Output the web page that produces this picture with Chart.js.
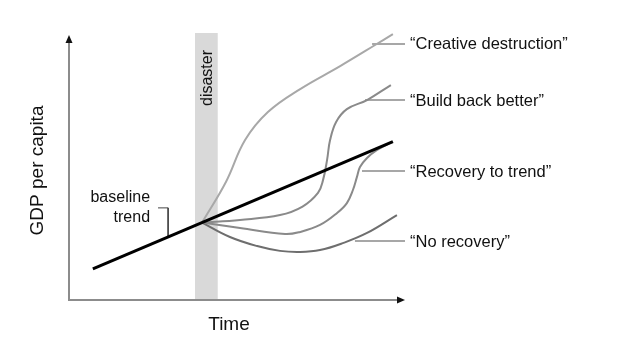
<!DOCTYPE html>
<html>
<head>
<meta charset="utf-8">
<script src="https://cdn.jsdelivr.net/npm/chart.js@4/dist/chart.umd.min.js"></script>
<style>
html,body{margin:0;padding:0;background:#fff;}
#wrap{width:630px;height:354px;position:relative;}
</style>
</head>
<body>
<div id="wrap"><canvas id="c"></canvas></div>
<script>
// ---- data (time units 0..100, GDP units 0..100) ----
const disasterSpan = [37.5, 44.3];
const disasterTop = 100;

const baselineT = [7.1, 96.4];
const baselineG = [11.7, 59.3];

const creativeT = [39.6, 46.7, 52.4, 59.2, 68.8, 80.7, 91.1, 96.4];
const creativeG = [29.0, 44.2, 59.9, 70.4, 79.0, 87.6, 95.5, 99.6];

const buildT = [39.6, 50.9, 62.8, 69.5, 74.1, 75.6, 76.8, 77.7, 79.5, 82.7, 88.7, 95.8];
const buildG = [29.0, 30.0, 31.8, 35.0, 40.1, 44.9, 52.4, 59.9, 66.7, 71.5, 74.9, 80.5];

const recoveryT = [39.6, 50.9, 64.3, 68.8, 74.7, 79.8, 82.7, 84.5, 85.7, 86.6, 88.7, 91.7, 96.1];
const recoveryG = [29.0, 27.0, 24.7, 25.5, 28.1, 32.6, 36.3, 41.2, 46.1, 49.8, 53.2, 56.2, 59.2];

const noRecT = [39.6, 47.9, 56.0, 62.8, 68.8, 74.7, 81.5, 88.7, 97.6];
const noRecG = [29.0, 23.6, 20.2, 18.4, 18.0, 18.7, 21.3, 25.1, 31.8];

const scenarioNames = ['\u201CCreative destruction\u201D', '\u201CBuild back better\u201D', '\u201CRecovery to trend\u201D', '\u201CNo recovery\u201D'];
const leaderStartT = [90.2, 88.1, 87.2, 85.1];
const leaderLevelG = [95.9, 74.9, 48.3, 22.1];
const leaderEndT = 100;

const bracketT = [26.5, 29.5, 29.5];
const bracketG = [34.5, 34.5, 23.6];
const baselineLabel = ['baseline', 'trend'];

const xTitle = 'Time';
const yTitle = 'GDP per capita';
const bandLabel = 'disaster';

// ---- helpers ----
const pts = (xs, ys) => xs.map((v, i) => ({x: v, y: ys[i]}));
const FONT = '"Liberation Sans", Arial, Helvetica, sans-serif';

const curve = (xs, ys, color, w) => ({
  data: pts(xs, ys), borderColor: color, borderWidth: w, pointRadius: 0,
  tension: 0.4, fill: false, clip: false, order: 2
});

const datasets = [
  {data: pts(baselineT, baselineG), borderColor: '#000', borderWidth: 3, pointRadius: 0, tension: 0, fill: false, clip: false, order: 0},
  curve(creativeT, creativeG, '#a8a8a8', 2),
  curve(buildT, buildG, '#8a8a8a', 2),
  curve(recoveryT, recoveryG, '#8a8a8a', 2),
  curve(noRecT, noRecG, '#6e6e6e', 2),
];
leaderStartT.forEach((t, i) => {
  datasets.push({data: [{x: t, y: leaderLevelG[i]}, {x: leaderEndT, y: leaderLevelG[i]}],
    borderColor: '#8a8a8a', borderWidth: 1.5, pointRadius: 0, tension: 0, fill: false, clip: false, order: 3});
});
datasets.push({data: pts(bracketT, bracketG), borderColor: '#444', borderWidth: 1, pointRadius: 0, tension: 0, fill: false, clip: false, order: 3});
datasets.push({data: [{x: disasterSpan[0], y: disasterTop}, {x: disasterSpan[1], y: disasterTop}],
  borderWidth: 0, borderColor: 'rgba(0,0,0,0)', backgroundColor: '#d9d9d9', pointRadius: 0, tension: 0, fill: 'origin', clip: false, order: 10});

const overlay = {
  id: 'overlay',
  afterDatasetsDraw(chart) {
    const {ctx, chartArea: a, scales: {x, y}} = chart;
    ctx.save();
    // axes
    const x0 = x.getPixelForValue(0), y0 = y.getPixelForValue(0);
    const xEnd = x.getPixelForValue(100), yEnd = y.getPixelForValue(100) + 2;
    ctx.strokeStyle = '#8c8c8c'; ctx.lineWidth = 2;
    ctx.beginPath();
    ctx.moveTo(x0, yEnd + 6); ctx.lineTo(x0, y0); ctx.lineTo(xEnd - 6, y0);
    ctx.stroke();
    ctx.fillStyle = '#111';
    ctx.beginPath(); ctx.moveTo(x0, yEnd); ctx.lineTo(x0 - 3.5, yEnd + 8); ctx.lineTo(x0 + 3.5, yEnd + 8); ctx.closePath(); ctx.fill();
    ctx.beginPath(); ctx.moveTo(xEnd, y0); ctx.lineTo(xEnd - 8, y0 - 3.5); ctx.lineTo(xEnd - 8, y0 + 3.5); ctx.closePath(); ctx.fill();

    // scenario labels
    ctx.fillStyle = '#111';
    ctx.font = '16.5px ' + FONT;
    ctx.textAlign = 'left'; ctx.textBaseline = 'middle';
    scenarioNames.forEach((n, i) => {
      ctx.fillText(n, x.getPixelForValue(leaderEndT) + 5, y.getPixelForValue(leaderLevelG[i]) + 1);
    });
    // baseline label
    ctx.font = '16px ' + FONT;
    ctx.textAlign = 'right';
    const bx = x.getPixelForValue(bracketT[0]) - 8;
    const by = y.getPixelForValue(bracketG[0]);
    ctx.fillText(baselineLabel[0], bx, by - 10);
    ctx.fillText(baselineLabel[1], bx, by + 10);

    // disaster label
    ctx.save();
    ctx.translate((x.getPixelForValue(disasterSpan[0]) + x.getPixelForValue(disasterSpan[1])) / 2 + 1, y.getPixelForValue(disasterTop) + 45);
    ctx.rotate(-Math.PI / 2);
    ctx.textAlign = 'center'; ctx.textBaseline = 'middle';
    ctx.fillText(bandLabel, 0, 0);
    ctx.restore();

    // axis titles
    ctx.font = '19px ' + FONT;
    ctx.textAlign = 'center'; ctx.textBaseline = 'middle';
    ctx.fillText(xTitle, (a.left + a.right) / 2 - 8, a.bottom + 25);
    ctx.save();
    ctx.translate(a.left - 31, (a.top + a.bottom) / 2 + 4);
    ctx.rotate(-Math.PI / 2);
    ctx.fillText(yTitle, 0, 0);
    ctx.restore();
    ctx.restore();
  }
};

new Chart(document.getElementById('c'), {
  type: 'line',
  data: {datasets},
  options: {
    responsive: true, maintainAspectRatio: false, animation: false,
    events: [],
    layout: {padding: {left: 69, right: 225, top: 33, bottom: 54}},
    plugins: {legend: {display: false}, tooltip: {enabled: false}},
    scales: {
      x: {type: 'linear', min: 0, max: 100, display: false},
      y: {type: 'linear', min: 0, max: 100, display: false}
    }
  },
  plugins: [overlay]
});
</script>
</body>
</html>
